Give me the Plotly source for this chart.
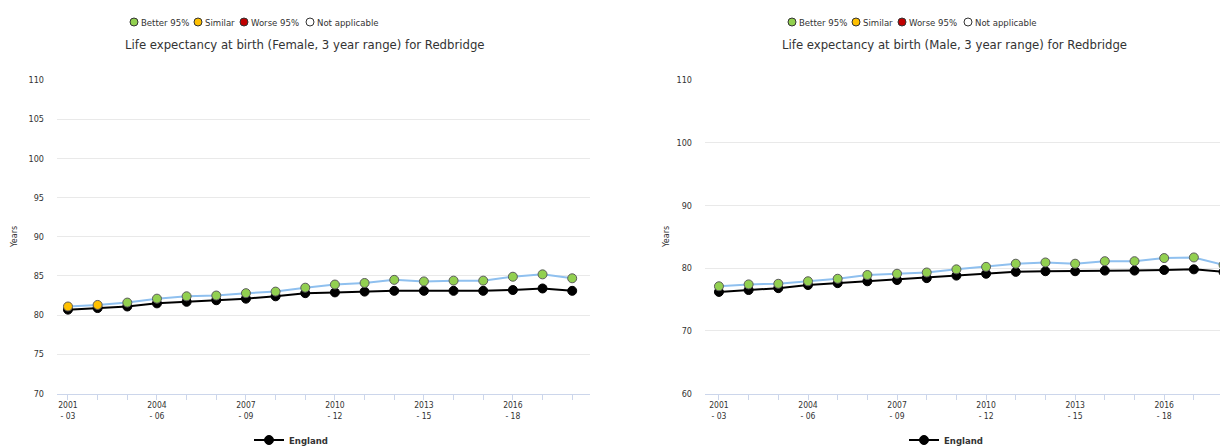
import plotly.graph_objects as go

periods = ["2001 - 03", "2002 - 04", "2003 - 05", "2004 - 06", "2005 - 07", "2006 - 08",
           "2007 - 09", "2008 - 10", "2009 - 11", "2010 - 12", "2011 - 13", "2012 - 14",
           "2013 - 15", "2014 - 16", "2015 - 17", "2016 - 18", "2017 - 19", "2018 - 20"]

female_redbridge = [81.1, 81.3, 81.6, 82.1, 82.4, 82.5, 82.8, 83.0, 83.5, 83.9,
                    84.1, 84.5, 84.3, 84.4, 84.4, 84.9, 85.2, 84.7]
female_england = [80.7, 80.9, 81.1, 81.5, 81.7, 81.9, 82.1, 82.4, 82.8, 82.9,
                  83.0, 83.1, 83.1, 83.1, 83.1, 83.2, 83.4, 83.1]
female_signif = ["Similar", "Similar"] + ["Better 95%"] * 16

male_redbridge = [77.1, 77.4, 77.5, 77.9, 78.3, 78.9, 79.1, 79.3, 79.8, 80.2,
                  80.7, 80.9, 80.7, 81.1, 81.1, 81.6, 81.7, 80.5]
male_england = [76.2, 76.5, 76.8, 77.3, 77.6, 77.9, 78.1, 78.4, 78.8, 79.1,
                79.4, 79.5, 79.5, 79.6, 79.6, 79.7, 79.8, 79.4]
male_signif = ["Better 95%"] * 18

tick_every = 3
legend_keys = ["Better 95%", "Similar", "Worse 95%", "Not applicable"]
key_colors = {"Better 95%": "#92d050", "Similar": "#ffc000",
              "Worse 95%": "#c00000", "Not applicable": "#ffffff"}

# page is 1228x446; the browser body has an 8px margin
OFF = 8
W, H = 1228 - OFF, 446 - OFF
FONT = "DejaVu Sans Condensed, DejaVu Sans, sans-serif"


def px(xp):
    return (xp - OFF) / W


def py(yp):
    return (H - (yp - OFF)) / H


x_idx = list(range(len(periods)))
tickvals = x_idx[::tick_every]
ticktext = [p.replace(" - ", "<br>- ") for p in periods[::tick_every]]

fig = go.Figure()

panels = [
    dict(xa="x", ya="y", red=female_redbridge, eng=female_england, sig=female_signif,
         legend="legend",
         title="Life expectancy at birth (Female, 3 year range) for Redbridge"),
    dict(xa="x2", ya="y2", red=male_redbridge, eng=male_england, sig=male_signif,
         legend="legend2",
         title="Life expectancy at birth (Male, 3 year range) for Redbridge"),
]

for p in panels:
    fig.add_trace(go.Scatter(
        x=x_idx, y=p["eng"], xaxis=p["xa"], yaxis=p["ya"], name="England",
        mode="lines+markers", line=dict(color="#000000", width=2),
        marker=dict(color="#000000", size=9, line=dict(color="#000000", width=1)),
        legend=p["legend"], showlegend=True, cliponaxis=True))
    fig.add_trace(go.Scatter(
        x=x_idx, y=p["red"], xaxis=p["xa"], yaxis=p["ya"], name="Redbridge",
        mode="lines+markers", line=dict(color="#8fc0ef", width=2),
        marker=dict(color=[key_colors[s] for s in p["sig"]], size=9,
                    line=dict(color="#5b5b5b", width=1)),
        showlegend=False, cliponaxis=True))

y_dom = [py(393.5), py(80)]
common_x = dict(tickmode="array", tickvals=tickvals, ticktext=ticktext,
                showgrid=False, zeroline=False, showline=True, linecolor="#ccd6eb",
                linewidth=1, ticks="outside", ticklen=5, tickcolor="#ccd6eb",
                ticklabelstandoff=-2,
                minor=dict(dtick=1, tick0=0, ticks="outside", ticklen=5, tickcolor="#ccd6eb"),
                tickfont=dict(family=FONT, size=8.5, color="#333333"), automargin=False)
common_y = dict(showgrid=True, gridcolor="#e9e9e9", gridwidth=1, zeroline=False,
                showline=False, ticks="", ticklabelstandoff=12, automargin=False,
                tickfont=dict(family=FONT, size=9, color="#333333"), domain=y_dom)

fig.update_layout(
    width=W, height=H, autosize=False,
    margin=dict(l=0, r=0, t=0, b=0, pad=0, autoexpand=False),
    paper_bgcolor="#ffffff", plot_bgcolor="#ffffff",
    font=dict(family=FONT, color="#333333"),
    xaxis=dict(domain=[px(57), px(590)], range=[-0.37, 17.6], anchor="y", **common_x),
    yaxis=dict(range=[70, 110], dtick=5, tick0=70, anchor="x", **common_y),
    xaxis2=dict(domain=[px(705), 1.0], range=[-0.47, 17.15], anchor="y2", **common_x),
    yaxis2=dict(range=[60, 110], dtick=10, tick0=60, anchor="x2", **common_y),
    legend=dict(x=px(291), y=py(440), xanchor="center", yanchor="middle",
                orientation="h", itemwidth=30, bgcolor="rgba(0,0,0,0)",
                font=dict(family=FONT, size=9.5, color="#333333", weight="bold")),
    legend2=dict(x=px(946), y=py(440), xanchor="center", yanchor="middle",
                 orientation="h", itemwidth=30, bgcolor="rgba(0,0,0,0)",
                 font=dict(family=FONT, size=9.5, color="#333333", weight="bold")),
)

annotations = []
shapes = []
title_cx = [305, 954]
legend_x0 = [130, 788]
y_title_x = [14, 666]
for i, p in enumerate(panels):
    annotations.append(dict(text=p["title"], x=px(title_cx[i]), y=py(44),
                            xref="paper", yref="paper", xanchor="center", yanchor="middle",
                            showarrow=False, font=dict(family=FONT, size=13, color="#333333")))
    annotations.append(dict(text="Years", x=px(y_title_x[i]), y=py(237),
                            xref="paper", yref="paper", xanchor="center", yanchor="middle",
                            textangle=-90, showarrow=False,
                            font=dict(family=FONT, size=9, color="#333333")))
    offsets = [0, 64, 110, 176]
    for k, key in enumerate(legend_keys):
        cx = legend_x0[i] + 4 + offsets[k]
        cy = 22
        shapes.append(dict(type="circle", xref="paper", yref="paper",
                           x0=px(cx - 4), x1=px(cx + 4),
                           y0=py(cy + 4), y1=py(cy - 4),
                           fillcolor=key_colors[key], line=dict(color="#333333", width=1)))
        annotations.append(dict(text=key, x=px(cx + 5), y=py(cy),
                                xref="paper", yref="paper", xanchor="left", yanchor="middle",
                                showarrow=False,
                                font=dict(family=FONT, size=9.5, color="#333333")))

fig.update_layout(annotations=annotations, shapes=shapes)
fig.write_html("out.html")
